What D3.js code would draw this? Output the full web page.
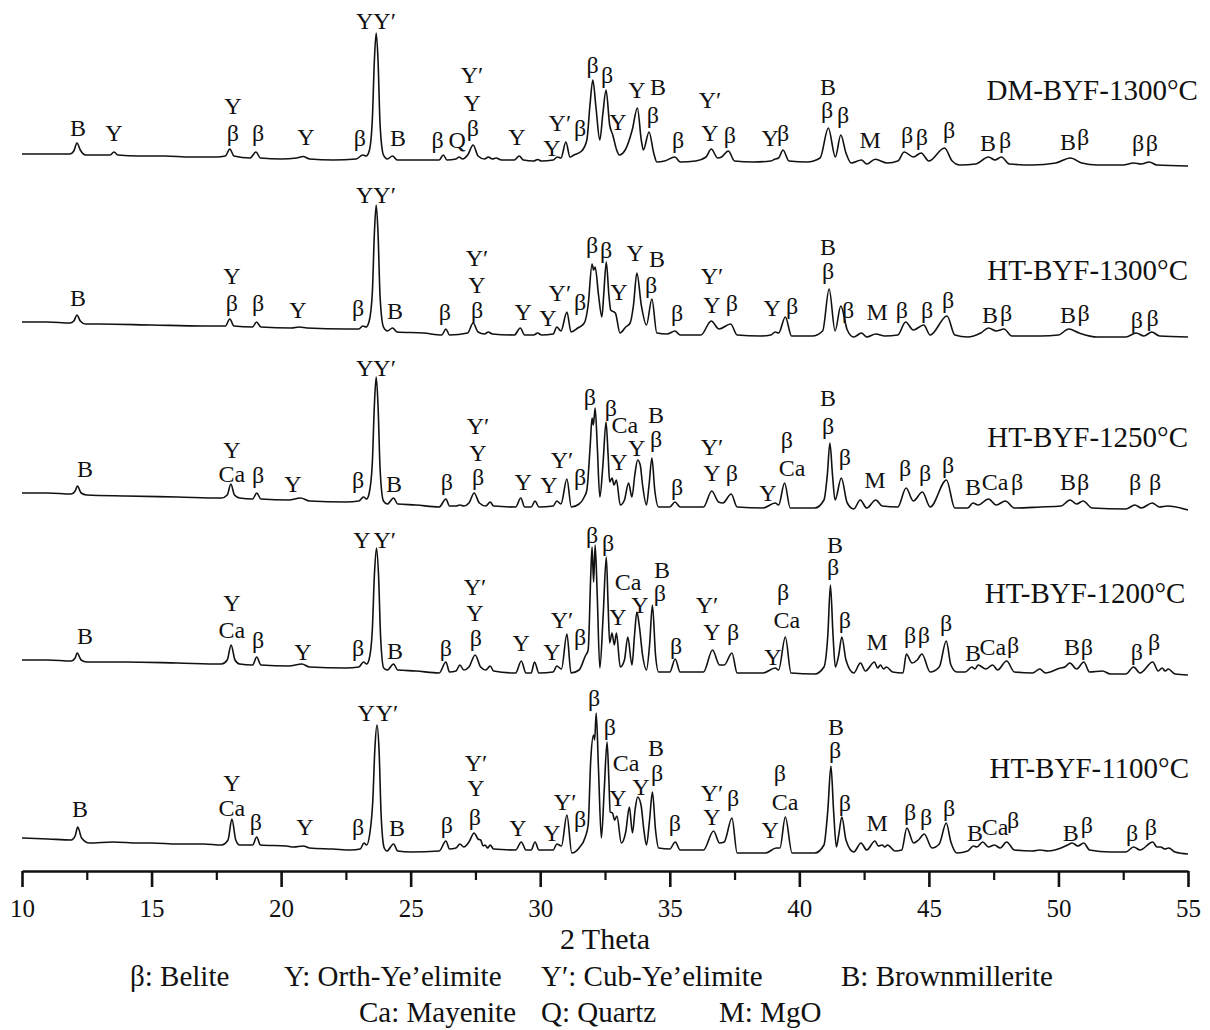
<!DOCTYPE html>
<html>
<head>
<meta charset="utf-8">
<script src="https://cdn.jsdelivr.net/npm/d3@7"></script>
<style>
  body { margin: 0; background: #fff; }
  text { font-family: "Liberation Serif", "Times New Roman", serif; fill: #111; }
</style>
</head>
<body>
<svg id="chart" width="1210" height="1030"></svg>
<script>
// ---- XRD patterns: [2θ (deg), intensity (a.u.)] measured above each pattern's own zero ----
const dm1300 = [[10,31],[10.8,31],[11.5,31],[11.85,31],[12.0,34],[12.12,42],[12.25,35],[12.45,30],[13.0,30],[13.4,30],[13.55,33],[13.7,30],[14.5,29],[15.5,29],[16.5,28],[17.5,28],[17.85,29],[18.02,36],[18.18,29],[18.8,27],[19.03,33],[19.2,27],[20.0,26],[20.6,27],[20.85,28.5],[21.1,26],[22.0,25],[22.9,26],[23.15,30],[23.28,29],[23.40,34],[23.52,65],[23.60,125],[23.67,152],[23.74,125],[23.82,60],[23.95,30],[24.1,26],[24.3,29],[24.48,25],[25.5,25],[26.1,25],[26.26,30],[26.4,25],[26.75,26],[26.87,28],[27.0,26],[27.2,30],[27.41,40],[27.6,29],[27.85,26],[28.0,28],[28.15,26],[28.3,27],[28.5,25],[29.0,25],[29.19,29],[29.35,25],[29.75,24],[29.9,25.5],[30.05,24],[30.5,25],[30.66,28],[30.8,27],[30.99,43],[31.15,28],[31.3,30],[31.6,34],[31.8,45],[31.92,80],[32.03,105],[32.15,78],[32.3,45],[32.42,72],[32.54,95],[32.68,60],[32.8,50],[32.95,35],[33.05,30],[33.3,36],[33.55,55],[33.75,77],[33.9,45],[33.98,35],[34.2,53],[34.38,32],[34.5,23],[34.8,24],[35.2,28],[35.4,23],[36.0,24],[36.4,28],[36.6,36],[36.85,27],[37.0,28],[37.26,34],[37.5,24],[38.2,23],[38.9,24],[39.07,26],[39.2,27],[39.37,35],[39.6,24],[40.3,23],[40.8,27],[41.12,57],[41.39,28],[41.6,50],[41.8,32],[42.0,22],[42.4,25],[42.6,21],[42.93,25.7],[43.4,22],[43.8,24],[44.05,33],[44.4,28],[44.7,32],[45.0,24],[45.6,37],[45.9,24],[46.2,20],[46.8,21],[47.3,28],[47.55,25],[47.8,28],[48.1,21],[49.0,20],[49.9,22],[50.46,27],[50.9,22],[51.5,20],[52.5,20],[52.9,22],[53.2,21],[53.5,23],[53.8,20],[55,19]];

const ht1300 = [[10,33],[11,33],[11.85,32],[12.0,34],[12.12,40],[12.25,34],[12.45,31],[13,31],[15,30],[17,29],[17.85,29],[18.02,36],[18.18,29],[18.9,28],[19.05,33],[19.22,28],[20.4,27],[20.7,28],[21.0,27],[22.5,26],[23.0,26],[23.15,29],[23.28,28],[23.40,34],[23.52,62],[23.60,122],[23.67,150],[23.74,122],[23.82,58],[23.95,28],[24.1,24],[24.3,27],[24.48,23],[25.5,22],[26.2,20],[26.36,26],[26.5,20],[27.2,22],[27.41,32],[27.6,23],[27.85,21],[28.0,23],[28.15,21],[29.0,20],[29.23,27],[29.4,20],[29.75,20],[29.9,22],[30.05,20],[30.5,21],[30.64,28],[30.8,24],[31.03,43],[31.19,23],[31.45,27],[31.7,32],[31.85,50],[32.0,91],[32.06,85],[32.12,88],[32.25,60],[32.38,38],[32.45,60],[32.55,93],[32.65,60],[32.72,45],[32.9,42],[33.08,22],[33.3,28],[33.47,32],[33.6,50],[33.73,82],[33.9,50],[34.1,30],[34.31,56],[34.5,22],[34.9,21],[35.2,24],[35.4,20],[36.2,20],[36.6,34],[36.9,26],[37.35,31],[37.6,20],[38.5,19],[38.9,20],[39.07,23],[39.2,22],[39.46,38],[39.7,19],[40.5,19],[40.9,24],[41.15,66],[41.38,24],[41.6,49],[41.85,25],[42.1,18],[42.4,22],[42.6,18],[42.95,21],[43.3,19],[43.8,20],[44.1,33],[44.4,25],[44.8,30],[45.05,20],[45.7,39],[46.0,20],[46.5,18],[47.0,22],[47.3,27],[47.6,24],[47.9,26],[48.2,19],[49.3,19],[50.0,20],[50.4,26],[50.8,22],[51.5,18],[52.6,18],[53.0,22],[53.3,19],[53.6,23],[53.9,19],[55,18]];

const ht1250 = [[10,32],[11,32],[11.9,31],[12.05,34],[12.14,39],[12.28,32],[12.5,30],[14,29],[16,28],[17.7,27],[17.92,30],[18.06,41],[18.2,30],[18.4,27],[18.9,26],[19.06,32],[19.22,26],[20.3,25],[20.75,27],[21.1,24],[22.5,23],[23.0,24],[23.18,28],[23.3,26],[23.40,32],[23.52,62],[23.60,120],[23.67,148],[23.74,120],[23.82,56],[23.95,24],[24.1,21],[24.34,27],[24.5,21],[25.2,20],[26.1,18],[26.36,26],[26.5,19],[26.75,19],[26.9,20],[27.05,19],[27.25,22],[27.45,32],[27.65,22],[27.9,19],[28.07,23],[28.2,19],[29.05,18],[29.25,27],[29.4,18],[29.65,18],[29.8,24],[29.95,18],[30.5,19],[30.64,24],[30.8,21],[31.03,46],[31.2,18],[31.5,21],[31.7,28],[31.8,35],[31.93,80],[32.0,107],[32.05,100],[32.12,117],[32.2,80],[32.3,28],[32.42,60],[32.54,103],[32.62,70],[32.68,43],[32.77,47],[32.85,40],[32.94,45],[33.09,20],[33.25,25],[33.41,42],[33.54,28],[33.65,50],[33.76,65],[33.86,60],[33.95,40],[34.1,20],[34.2,40],[34.31,67],[34.42,35],[34.57,18],[35.0,18],[35.2,23],[35.4,18],[36.3,18],[36.62,34],[36.88,23],[37.05,22],[37.37,31],[37.6,18],[38.6,17],[39.07,22],[39.2,20],[39.43,42],[39.65,17],[40.6,17],[40.95,25],[41.08,50],[41.18,82],[41.28,50],[41.38,25],[41.62,47],[41.85,22],[42.1,16],[42.35,25],[42.6,17],[42.95,25],[43.2,19],[43.8,18],[44.12,37],[44.4,24],[44.75,33],[45.05,18],[45.68,45],[46.0,17],[46.5,17],[46.7,22],[46.9,20],[47.3,26],[47.6,20],[47.95,24],[48.3,17],[49.3,18],[50.1,19],[50.45,25],[50.7,21],[50.95,24],[51.3,17],[52.6,16],[52.95,20],[53.2,17],[53.62,22],[53.9,18],[54.2,19],[55,15]];

const ht1200 = [[10,35],[11,35],[11.9,34],[12.05,37],[12.13,42],[12.28,35],[12.5,33],[14,33],[16,32],[17.7,31],[17.92,35],[18.07,50],[18.22,35],[18.4,31],[18.9,30],[19.06,38],[19.22,30],[20.3,29],[20.8,31],[21.1,28],[22.5,27],[23.0,28],[23.18,33],[23.3,31],[23.40,36],[23.52,65],[23.60,120],[23.68,147],[23.76,120],[23.84,58],[23.96,27],[24.1,25],[24.34,31],[24.5,25],[25.2,24],[26.1,22],[26.36,33],[26.5,23],[26.75,24],[26.9,30],[27.05,25],[27.25,28],[27.49,40],[27.7,28],[27.9,25],[28.07,29],[28.2,24],[29.05,22],[29.27,34],[29.45,22],[29.65,22],[29.78,33],[29.95,22],[30.5,23],[30.64,29],[30.82,26],[31.03,61],[31.19,22],[31.5,25],[31.74,39],[31.85,45],[31.95,120],[32.0,148],[32.06,113],[32.12,150],[32.2,100],[32.3,27],[32.43,80],[32.55,138],[32.62,90],[32.68,52],[32.77,62],[32.86,50],[32.94,62],[33.09,28],[33.25,35],[33.38,58],[33.54,30],[33.64,60],[33.73,83],[33.82,70],[33.95,40],[34.1,25],[34.22,50],[34.33,90],[34.45,40],[34.57,23],[35.0,23],[35.21,36],[35.4,23],[36.3,23],[36.65,45],[36.92,30],[37.1,30],[37.4,42],[37.6,22],[38.6,22],[39.07,27],[39.2,25],[39.46,58],[39.68,22],[40.6,21],[40.95,28],[41.1,60],[41.2,110],[41.3,60],[41.39,28],[41.52,40],[41.64,58],[41.8,35],[42.1,22],[42.36,32],[42.55,24],[42.9,33],[43.02,27],[43.13,30],[43.25,26],[43.36,28],[43.6,23],[44.0,22],[44.13,41],[44.35,32],[44.55,35],[44.73,41],[45.05,23],[45.4,28],[45.67,54],[45.85,30],[46.08,23],[46.4,23],[46.66,28],[46.78,26],[46.9,30],[47.2,26],[47.46,30],[47.65,25],[48.0,34],[48.3,23],[49.0,22],[49.28,26],[49.5,22],[50.08,27],[50.25,28],[50.44,32],[50.7,26],[50.98,33],[51.2,23],[51.7,24],[52.0,21],[52.6,21],[52.9,28],[53.15,22],[53.64,33],[53.85,24],[54.0,27],[54.12,24],[54.24,26],[54.5,21],[55,20]];

const ht1100 = [[10,32],[11,31],[11.9,30],[12.05,34],[12.15,43],[12.3,32],[12.6,27],[13.5,28],[14.5,27],[15,27],[16,26],[17.0,26],[17.7,25],[17.95,30],[18.1,51],[18.25,30],[18.4,25],[18.9,25],[19.06,33],[19.2,25],[20.2,24],[20.48,23],[20.86,24],[21.1,22],[22.0,21],[22.7,20],[23.05,21],[23.2,27],[23.3,25],[23.42,36],[23.54,70],[23.62,122],[23.7,145],[23.78,120],[23.86,55],[23.98,22],[24.08,19],[24.34,26],[24.5,19],[25,18],[26.1,19],[26.36,29],[26.5,21],[26.75,22],[26.9,26],[27.05,23],[27.25,28],[27.45,37],[27.6,31],[27.7,30],[27.8,24],[27.87,25],[27.97,22],[28.07,25],[28.2,21],[29.05,20],[29.27,28],[29.45,20],[29.65,20],[29.8,28],[29.95,20],[30.5,20],[30.64,26],[30.82,24],[31.03,55],[31.22,17],[31.5,22],[31.74,33],[31.85,45],[31.95,110],[32.06,135],[32.1,130],[32.16,157],[32.25,100],[32.36,32],[32.47,80],[32.58,128],[32.65,90],[32.7,58],[32.79,57],[32.87,50],[32.96,54],[33.13,27],[33.3,38],[33.44,63],[33.56,37],[33.66,60],[33.76,73],[33.89,65],[34.0,40],[34.1,25],[34.22,50],[34.33,78],[34.45,40],[34.57,22],[35.0,21],[35.21,28],[35.4,20],[36.3,20],[36.69,39],[36.92,27],[37.1,28],[37.4,52],[37.6,17],[38.7,17],[39.11,22],[39.25,22],[39.46,53],[39.72,17],[40.6,17],[40.95,25],[41.1,60],[41.22,104],[41.32,60],[41.43,23],[41.52,35],[41.64,53],[41.8,30],[42.1,18],[42.38,27],[42.6,20],[42.92,29],[43.05,24],[43.2,25],[43.3,23],[43.4,25],[43.7,19],[43.95,20],[44.15,42],[44.41,27],[44.6,30],[44.82,36],[45.12,22],[45.4,26],[45.67,47],[45.85,28],[46.08,17],[46.5,19],[46.72,24],[46.85,23],[47.08,28],[47.3,23],[47.53,25],[47.75,22],[48.0,28],[48.3,20],[49.0,19],[49.28,20],[49.6,19],[50.1,22],[50.35,25],[50.53,27],[50.75,24],[50.98,27],[51.2,20],[52.0,18],[52.6,18],[52.9,23],[53.15,20],[53.64,28],[53.8,23],[53.95,23],[54.1,21],[54.26,22],[54.5,18],[55,16]];

// ---- phase assignments: [2θ, intensity, symbol] ----
const dmLabels = [[12.16,57,"B"],[13.55,52,"Y"],[18.14,79,"Y"],[18.14,52,"β"],[19.11,52,"β"],[20.96,48,"Y"],[23.04,47,"β"],[23.66,164,"YY′"],[24.51,47,"B"],[26.04,45,"β"],[26.79,45,"Q"],[27.37,110,"Y′"],[27.37,82,"Y"],[27.4,57,"β"],[29.10,48,"Y"],[30.45,37,"Y"],[30.76,62,"Y′"],[31.54,57,"β"],[32.02,120,"β"],[32.58,110,"β"],[33.00,63,"Y"],[33.73,95,"Y"],[34.55,98,"B"],[34.35,70,"β"],[35.32,45,"β"],[36.55,85,"Y′"],[36.55,52,"Y"],[37.32,50,"β"],[38.87,47,"Y"],[39.37,52,"β"],[41.11,98,"B"],[41.07,75,"β"],[41.69,70,"β"],[42.73,45,"M"],[44.16,50,"β"],[44.73,48,"β"],[45.78,55,"β"],[47.28,42,"B"],[47.94,45,"β"],[50.37,43,"B"],[50.95,48,"β"],[53.07,42,"β"],[53.61,42,"β"]];

const ht1300Labels = [[12.16,57,"B"],[18.10,79,"Y"],[18.10,52,"β"],[19.11,52,"β"],[20.65,45,"Y"],[22.97,47,"β"],[23.66,160,"YY′"],[24.40,44,"B"],[26.32,43,"β"],[27.56,97,"Y′"],[27.56,70,"Y"],[27.56,45,"β"],[29.34,43,"Y"],[30.30,37,"Y"],[30.76,62,"Y′"],[31.54,53,"β"],[32.00,110,"β"],[32.54,105,"β"],[33.04,63,"Y"],[33.66,102,"Y"],[34.51,96,"B"],[34.28,70,"β"],[35.28,42,"β"],[36.63,79,"Y′"],[36.63,50,"Y"],[37.40,52,"β"],[38.95,47,"Y"],[39.72,49,"β"],[41.11,108,"B"],[41.11,84,"β"],[41.88,45,"β"],[43.00,43,"M"],[43.96,45,"β"],[44.93,45,"β"],[45.74,55,"β"],[47.36,40,"B"],[47.98,42,"β"],[50.37,40,"B"],[50.97,42,"β"],[53.03,35,"β"],[53.63,37,"β"]];

const ht1250Labels = [[12.43,56,"B"],[18.10,75,"Y"],[18.10,51,"Ca"],[19.11,50,"β"],[20.46,41,"Y"],[22.97,45,"β"],[23.66,157,"YY′"],[24.36,41,"B"],[26.40,43,"β"],[27.60,99,"Y′"],[27.60,72,"Y"],[27.60,48,"β"],[29.34,43,"Y"],[30.34,40,"Y"],[30.84,65,"Y′"],[31.54,48,"β"],[31.92,128,"β"],[32.73,117,"β"],[33.27,100,"Ca"],[33.04,63,"Y"],[33.72,77,"Y"],[34.47,110,"B"],[34.47,86,"β"],[35.28,38,"β"],[36.63,78,"Y′"],[36.63,52,"Y"],[37.40,52,"β"],[38.79,32,"Y"],[39.52,85,"β"],[39.72,57,"Ca"],[41.11,127,"B"],[41.11,99,"β"],[41.76,68,"β"],[42.92,45,"M"],[44.08,57,"β"],[44.85,52,"β"],[45.74,60,"β"],[46.70,38,"B"],[47.55,43,"Ca"],[48.40,43,"β"],[50.37,43,"B"],[50.95,43,"β"],[52.96,43,"β"],[53.73,43,"β"]];

const ht1200Labels = [[12.43,59,"B"],[18.10,92,"Y"],[18.10,65,"Ca"],[19.11,55,"β"],[20.84,43,"Y"],[22.97,47,"β"],[23.12,155,"Y"],[24.0,155,"Y′"],[24.40,44,"B"],[26.36,47,"β"],[27.48,108,"Y′"],[27.48,82,"Y"],[27.52,57,"β"],[29.26,52,"Y"],[30.45,43,"Y"],[30.84,75,"Y′"],[31.54,58,"β"],[32.00,160,"β"],[32.62,152,"β"],[33.39,113,"Ca"],[33.00,78,"Y"],[33.85,90,"Y"],[34.70,125,"B"],[34.62,102,"β"],[35.24,49,"β"],[36.44,90,"Y′"],[36.63,63,"Y"],[37.44,63,"β"],[38.98,38,"Y"],[39.37,103,"β"],[39.52,75,"Ca"],[41.38,150,"B"],[41.30,128,"β"],[41.76,75,"β"],[43.00,53,"M"],[44.28,60,"β"],[44.81,60,"β"],[45.66,72,"β"],[46.70,42,"B"],[47.47,48,"Ca"],[48.25,50,"β"],[50.52,48,"B"],[51.10,48,"β"],[53.03,43,"β"],[53.69,53,"β"]];

const ht1100Labels = [[12.24,61,"B"],[18.10,87,"Y"],[18.10,62,"Ca"],[19.03,48,"β"],[20.92,43,"Y"],[22.97,43,"β"],[23.28,157,"Y"],[24.09,157,"Y′"],[24.47,42,"B"],[26.40,45,"β"],[27.52,107,"Y′"],[27.52,82,"Y"],[27.48,53,"β"],[29.14,42,"Y"],[30.45,37,"Y"],[30.96,68,"Y′"],[31.54,51,"β"],[32.08,172,"β"],[32.69,143,"β"],[33.31,107,"Ca"],[33.00,72,"Y"],[33.89,83,"Y"],[34.47,122,"B"],[34.51,97,"β"],[35.20,47,"β"],[36.63,77,"Y′"],[36.63,53,"Y"],[37.44,72,"β"],[38.87,40,"Y"],[39.25,97,"β"],[39.45,68,"Ca"],[41.42,143,"B"],[41.38,120,"β"],[41.76,67,"β"],[43.00,47,"M"],[44.28,58,"β"],[44.89,53,"β"],[45.78,62,"β"],[46.78,37,"B"],[47.55,43,"Ca"],[48.25,50,"β"],[50.48,37,"B"],[51.10,45,"β"],[52.84,37,"β"],[53.57,43,"β"]];

// ---- sample names, vertical stacking and name anchors (right end, [2θ, intensity]) ----
const sampleNames = ["DM-BYF-1300°C", "HT-BYF-1300°C", "HT-BYF-1250°C", "HT-BYF-1200°C", "HT-BYF-1100°C"];
const patterns = [dm1300, ht1300, ht1250, ht1200, ht1100];
const peakLabels = [dmLabels, ht1300Labels, ht1250Labels, ht1200Labels, ht1100Labels];
const stackOffsets = [685, 515, 345, 175, 0];
const nameAnchors = [[55.38, 95], [55.0, 85], [55.0, 88], [54.9, 102], [55.04, 102]];

// ---- axis ticks and legend ----
const majorTicks = [10, 15, 20, 25, 30, 35, 40, 45, 50, 55];
const minorTicks = [12.5, 17.5, 22.5, 27.5, 32.5, 37.5, 42.5, 47.5, 52.5];
const axisTitle = "2 Theta";
const legendRow1 = [["β: Belite", 130], ["Y: Orth-Ye’elimite", 284], ["Y′: Cub-Ye’elimite", 541], ["B: Brownmillerite", 841]];
const legendRow2 = [["Ca: Mayenite", 359], ["Q: Quartz", 541], ["M: MgO", 719]];

const svg = d3.select("#chart");
svg.append("rect").attr("width", 1210).attr("height", 1030).attr("fill", "#fff");

const x = d3.scaleLinear().domain([10, 55]).range([22, 1188]);
const y = d3.scaleLinear().domain([0, 870]).range([870, 0]);

const line = d3.line()
  .x(d => x(d[0]))
  .y(d => y(d[1]))
  .curve(d3.curveMonotoneX);

const plot = svg.append("g");

patterns.forEach((pts, i) => {
  const off = stackOffsets[i];
  plot.append("path")
    .datum(pts.map(p => [p[0], p[1] + off]))
    .attr("d", line)
    .attr("fill", "none")
    .attr("stroke", "#111")
    .attr("stroke-width", 1.6)
    .attr("stroke-linejoin", "round");

  plot.append("g").selectAll("text")
    .data(peakLabels[i])
    .join("text")
    .attr("x", d => x(d[0]))
    .attr("y", d => y(d[1] + off))
    .attr("dy", "0.35em")
    .attr("text-anchor", "middle")
    .attr("font-size", 24)
    .text(d => d[2]);

  plot.append("text")
    .attr("x", x(nameAnchors[i][0]))
    .attr("y", y(nameAnchors[i][1] + off))
    .attr("dy", "0.35em")
    .attr("text-anchor", "end")
    .attr("font-size", 29)
    .text(sampleNames[i]);
});

// bottom axis with major and minor ticks
const axisY = 871;
const axG = svg.append("g").attr("transform", `translate(0,${axisY})`);
axG.call(d3.axisBottom(x).tickValues(majorTicks).tickSize(16).tickSizeOuter(0).tickPadding(12).tickFormat(d3.format("d")));
axG.select(".domain").attr("stroke", "#111").attr("stroke-width", 2.6);
axG.selectAll(".tick line").attr("stroke", "#111").attr("stroke-width", 2.6);
axG.selectAll(".tick text").attr("font-size", 25).attr("font-family", "Liberation Serif, serif").attr("fill", "#111");

const minorG = svg.append("g").attr("transform", `translate(0,${axisY})`);
minorG.call(d3.axisBottom(x).tickValues(minorTicks).tickSize(9).tickSizeOuter(0).tickFormat(""));
minorG.select(".domain").remove();
minorG.selectAll(".tick line").attr("stroke", "#111").attr("stroke-width", 2.2);

svg.append("text")
  .attr("x", (x(10) + x(55)) / 2)
  .attr("y", 949)
  .attr("text-anchor", "middle")
  .attr("font-size", 30)
  .text(axisTitle);

svg.append("g").selectAll("text").data(legendRow1).join("text")
  .attr("x", d => d[1]).attr("y", 986).attr("font-size", 29).text(d => d[0]);
svg.append("g").selectAll("text").data(legendRow2).join("text")
  .attr("x", d => d[1]).attr("y", 1022).attr("font-size", 29).text(d => d[0]);
</script>
</body>
</html>
